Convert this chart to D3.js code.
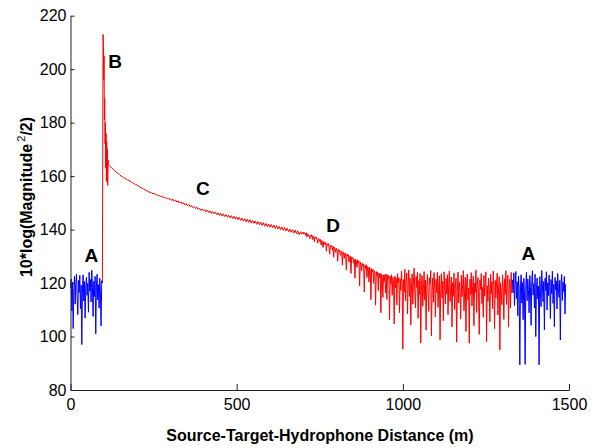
<!DOCTYPE html>
<html><head><meta charset="utf-8">
<script src="https://cdn.jsdelivr.net/npm/d3@7"></script>
<style>
html,body{margin:0;padding:0;background:#fff;}
svg{display:block;}
text{font-family:"Liberation Sans",Arial,Helvetica,sans-serif;}
</style></head>
<body>
<script>
// ---------- data ----------
// blue: background noise before the target return (0–96 m, every 2 m)
const blue1Start = 0, blue1Step = 2;
const blue1Values = [118.2,121.5,109.6,120.3,103.0,117.4,122.6,112.1,119.8,123.4,114.7,108.2,121.0,116.5,122.9,110.4,119.2,97.0,117.8,123.1,113.3,120.6,106.9,118.7,
122.2,115.4,119.9,109.1,124.0,117.0,121.3,112.9,124.8,118.3,107.5,120.7,115.0,122.5,101.0,118.9,123.3,113.7,119.4,110.6,121.8,116.3,104.0,120.9,120.0];
// red: peak B (96–115 m, every 1 m)
const peakStart = 96, peakStep = 1;
const peakValues = [120,171,213,209,196,205,181,189,172,180,163,176,158,173,161,170,156.5,166,164.6,164.2];
// red: decay C (116–700 m, every 4 m)
const decayStart = 116, decayStep = 4;
const decayValues = [164.0,163.5,163.1,162.6,162.2,161.6,161.3,160.8,160.6,160.0,159.8,159.5,159.1,158.9,158.5,158.4,158.0,157.8,157.3,157.2,
156.7,156.8,156.2,156.1,155.5,155.6,155.1,155.0,154.4,154.6,154.0,153.9,153.7,153.4,153.6,153.0,153.1,152.6,152.8,152.3,152.5,151.9,152.1,151.6,151.8,
151.3,151.6,150.9,151.4,150.6,151.1,150.3,150.7,149.9,150.4,149.6,150.1,149.2,149.7,148.9,149.4,148.6,149.0,148.2,148.7,147.9,148.4,147.5,148.0,147.2,
147.7,147.0,147.5,146.6,147.3,146.4,147.0,146.0,146.8,145.9,146.6,145.6,146.2,145.3,146.1,145.0,145.9,144.9,145.6,144.6,145.4,144.4,145.2,144.1,145.0,
143.9,144.8,143.7,144.6,143.4,144.3,143.2,144.1,142.9,143.9,142.7,143.7,142.4,143.5,142.3,143.2,142.0,143.0,141.8,142.8,141.6,142.6,141.3,142.3,141.1,
142.1,140.9,141.9,140.7,141.7,140.4,141.5,140.2,141.2,140.0,141.0,139.7,140.8,139.5,140.5,139.2,140.2,139.0,140.0,138.7,139.8,138.4,139.5,138.1,139.2,
138.3,139.1];
// red: D and noisy tail (700–1330 m, every 2 m)
const tailStart = 700, tailStep = 2;
const tailValues = [
139.1,138.3,138.9,138.6,137.8,138.8,137.2,138.4,138.0,137.5,136.6,137.9,137.4,138.1,136.3,137.6,137.0,135.4,137.3,136.8,137.2,136.1,134.9,136.7,136.4,
135.6,136.3,134.2,135.9,135.1,133.3,135.6,135.0,134.4,135.2,131.9,134.7,134.1,134.8,133.2,130.8,134.2,133.6,134.0,132.2,133.7,129.6,133.4,132.8,131.5,
133.0,132.2,128.1,132.6,131.8,132.4,130.4,131.2,132.0,126.7,131.6,130.9,129.2,131.3,130.5,124.9,130.9,130.1,130.6,127.8,129.3,130.2,123.6,129.8,129.1,
129.5,127.4,128.8,121.8,129.0,128.2,125.9,128.6,127.7,128.3,118.9,127.8,127.1,124.6,127.5,126.3,127.1,116.7,126.6,125.4,126.9,122.1,126.2,125.8,120.4,
125.9,124.7,113.8,125.4,124.1,125.1,119.9,124.6,123.5,111.7,124.3,122.8,124.0,117.2,123.7,121.9,123.6,108.9,123.4,122.4,114.6,123.1,120.7,123.2,116.3,
123.4,113.9,123.0,121.7,122.8,106.2,122.5,119.6,123.1,115.4,122.2,120.8,104.7,122.6,118.3,121.9,111.8,123.5,120.1,122.0,108.9,121.6,117.2,124.4,119.8,
95.3,121.3,116.6,125.2,113.4,120.7,123.8,108.5,119.2,124.9,115.0,121.8,104.3,118.6,123.4,112.1,120.2,125.6,116.9,110.7,122.5,118.3,124.1,106.8,120.9,
115.7,123.6,97.6,119.4,122.8,111.3,117.9,124.3,113.6,121.1,102.4,118.8,123.2,116.2,109.4,122.0,119.6,124.7,100.2,117.5,121.9,112.8,123.9,118.1,107.3,
121.4,116.4,124.0,110.9,119.1,122.7,98.8,117.8,123.5,114.5,120.6,105.9,124.2,118.9,112.2,121.7,116.0,123.1,108.2,119.8,124.5,113.1,117.4,122.3,103.6,
120.2,115.3,123.7,110.1,118.5,121.8,97.9,116.8,124.1,112.6,120.4,118.0,106.5,122.9,114.9,119.3,124.6,109.6,117.1,122.2,101.9,119.7,123.4,113.8,118.2,
97.5,121.5,115.6,123.9,111.4,118.7,122.6,104.1,120.0,116.5,124.8,109.0,119.4,122.1,114.0,100.8,121.2,117.7,123.6,112.3,118.4,107.2,122.8,115.1,120.7,
124.2,98.1,119.0,113.2,121.9,117.3,105.5,123.3,116.1,120.5,110.4,124.5,118.6,102.9,121.0,114.4,119.9,123.7,108.1,117.6,122.4,95.0,120.1,116.7,111.9,
123.1,118.2,106.4,121.6,115.8,124.6,112.0,119.5,122.9,103.5,117.9,121.4,110.7,124.0,116.3,121.2];
// blue: background noise after the target return (1330–1490 m, every 2 m)
const blue2Start = 1330, blue2Step = 2;
const blue2Values = [
121.2,116.4,123.8,111.6,119.7,124.3,114.2,120.5,107.8,122.6,117.9,89.4,118.8,123.1,112.5,120.2,106.3,121.7,115.9,89.6,119.3,124.0,113.4,121.5,117.1,
108.9,122.8,118.4,104.2,120.9,124.6,115.5,119.8,110.7,123.3,100.0,117.6,121.9,114.1,118.9,89.4,122.4,116.8,111.2,124.7,119.2,113.0,120.6,102.5,121.8,
117.2,124.2,109.9,120.1,115.3,123.0,118.6,106.7,121.3,116.0,124.5,112.4,119.5,103.7,122.1,117.5,120.8,110.3,123.6,118.1,114.6,121.0,98.7,119.9,123.2,
113.5,120.3,116.9,122.5,108.4,119.6];

const xTicks = [0,500,1000,1500];
const yTicks = [80,100,120,140,160,180,200,220];
const labelText = ["A","B","C","D","A"];
const labelX = [63,134,398,790,1378];
const labelY = [127.9,200.5,153,139.2,128.7];

// ---------- chart ----------
const W = 597, H = 448;
const svg = d3.select("body").append("svg").attr("width", W).attr("height", H);
const x = d3.scaleLinear().domain([0,1500]).range([70.5,569]);
const y = d3.scaleLinear().domain([80,220]).range([390,15.7]);

function toPoints(start, step, vals){ return vals.map((v,i)=>({d:start+i*step, v:v})); }
const line = d3.line().x(p=>x(p.d)).y(p=>y(p.v));

const redPts = toPoints(peakStart, peakStep, peakValues)
  .concat(toPoints(decayStart, decayStep, decayValues))
  .concat(toPoints(tailStart, tailStep, tailValues).slice(1));

svg.append("path").datum(redPts)
  .attr("fill","none").attr("stroke","#ff0000").attr("stroke-width",1).attr("d",line);
svg.append("path").datum(toPoints(blue1Start, blue1Step, blue1Values))
  .attr("fill","none").attr("stroke","#0000ff").attr("stroke-width",1).attr("d",line);
svg.append("path").datum(toPoints(blue2Start, blue2Step, blue2Values))
  .attr("fill","none").attr("stroke","#0000ff").attr("stroke-width",1).attr("d",line);

const xAxis = svg.append("g").attr("transform","translate(0,390)")
  .call(d3.axisBottom(x).tickValues(xTicks).tickSizeInner(-6).tickSizeOuter(0).tickPadding(9).tickFormat(d3.format("d")));
const yAxis = svg.append("g").attr("transform","translate(70.5,0)")
  .call(d3.axisLeft(y).tickValues(yTicks).tickSizeInner(-4).tickSizeOuter(0).tickPadding(4).tickFormat(d3.format("d")));
[xAxis,yAxis].forEach(g=>{
  g.selectAll("text").attr("font-size","16px").attr("fill","#000").attr("font-family",'"Liberation Sans",Arial,sans-serif');
  g.select(".domain").attr("stroke","#222");
  g.selectAll(".tick line").attr("stroke","#222");
});

svg.selectAll("text.ann").data(labelText).enter().append("text")
  .attr("class","ann")
  .attr("x",(t,i)=>x(labelX[i])).attr("y",(t,i)=>y(labelY[i]))
  .attr("text-anchor","middle").attr("font-size","19px").attr("font-weight","bold")
  .text(t=>t);

svg.append("text").attr("x",320).attr("y",441).attr("text-anchor","middle")
  .attr("font-size","16px").attr("font-weight","bold")
  .text("Source-Target-Hydrophone Distance (m)");

const yt = svg.append("text").attr("transform","translate(32,197) rotate(-90)")
  .attr("text-anchor","middle").attr("font-size","16px").attr("font-weight","bold");
yt.append("tspan").text("10*log(Magnitude");
yt.append("tspan").attr("dy",-7).attr("dx",2).attr("font-size","11px").attr("font-weight","normal").text("2");
yt.append("tspan").attr("dy",7).text("/2)");
</script>
</body></html>
